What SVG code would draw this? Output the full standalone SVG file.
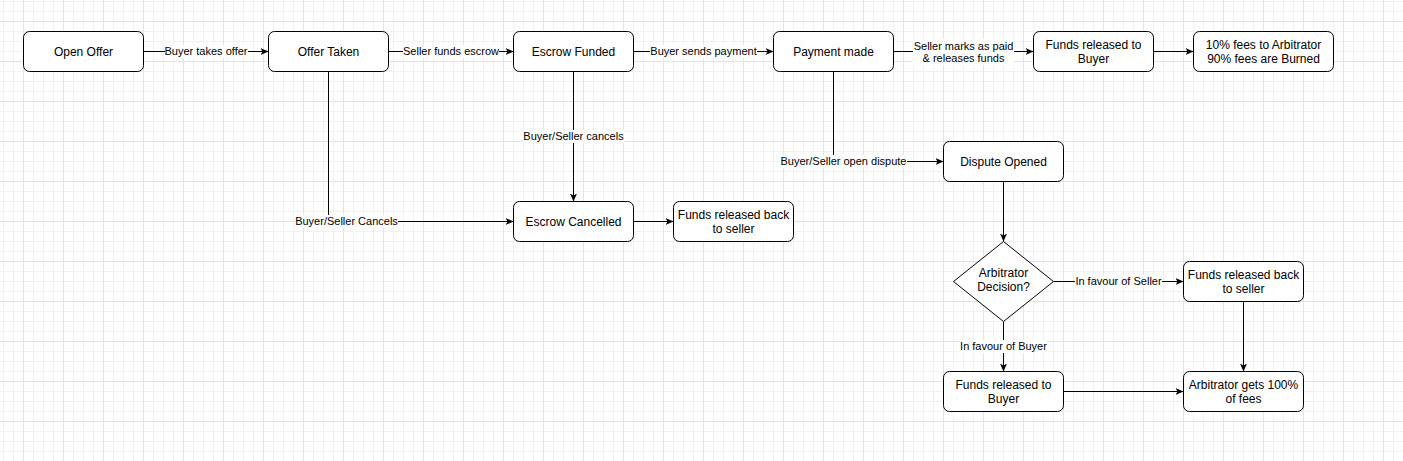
<svg xmlns="http://www.w3.org/2000/svg" width="1403" height="461" viewBox="0 0 1403 461">
<style>
.node{fill:#ffffff;stroke:#000000;stroke-width:1}
.nt{font-family:"Liberation Sans",Arial,Helvetica,sans-serif;font-size:12px;fill:#000000;text-anchor:middle;dominant-baseline:central}
.edge{fill:none;stroke:#000000;stroke-width:1}
.lbg{fill:#ffffff;stroke:none}
.lt{font-family:"Liberation Sans",Arial,Helvetica,sans-serif;font-size:11px;fill:#000000;text-anchor:middle;dominant-baseline:central}
</style>
<defs>
<pattern id="grid" x="23" y="21" width="40" height="40" patternUnits="userSpaceOnUse">
<path d="M10.5,0V40M20.5,0V40M30.5,0V40M0,10.5H40M0,20.5H40M0,30.5H40" stroke="#f1f1f1" stroke-width="1" fill="none"/>
<path d="M0.5,0V40M0,0.5H40" stroke="#e3e3e3" stroke-width="1" fill="none"/>
</pattern>
<marker id="arr" viewBox="0 0 8 7" refX="8" refY="3.5" markerWidth="8" markerHeight="7" markerUnits="userSpaceOnUse" orient="auto">
<path d="M0,0 L8,3.5 L0,7 L2,3.5 Z" fill="#000000"/>
</marker>
</defs>
<rect x="0" y="0" width="1403" height="461" fill="#ffffff"/>
<rect x="0" y="0" width="1403" height="461" fill="url(#grid)"/>

<g id="connectors">
<path class="edge" d="M143.5,51.5H268.5" marker-end="url(#arr)"/>
<path class="edge" d="M388.5,51.5H513.5" marker-end="url(#arr)"/>
<path class="edge" d="M633.5,51.5H773.5" marker-end="url(#arr)"/>
<path class="edge" d="M893.5,51.5H1033.5" marker-end="url(#arr)"/>
<path class="edge" d="M1153.5,51.5H1193.5" marker-end="url(#arr)"/>
<path class="edge" d="M328.5,71.5V221.5H513.5" marker-end="url(#arr)"/>
<path class="edge" d="M573.5,71.5V201.5" marker-end="url(#arr)"/>
<path class="edge" d="M633.5,221.5H673.5" marker-end="url(#arr)"/>
<path class="edge" d="M833.5,71.5V161.5H943.5" marker-end="url(#arr)"/>
<path class="edge" d="M1003.5,181.5V241.5" marker-end="url(#arr)"/>
<path class="edge" d="M1053.5,281.5H1183.5" marker-end="url(#arr)"/>
<path class="edge" d="M1003.5,321.5V371.5" marker-end="url(#arr)"/>
<path class="edge" d="M1063.5,391.5H1183.5" marker-end="url(#arr)"/>
<path class="edge" d="M1243.5,301.5V371.5" marker-end="url(#arr)"/>

<rect class="lbg" x="165" y="45" width="83" height="13"/>
<text class="lt" x="206" y="51">Buyer takes offer</text>
<rect class="lbg" x="403" y="45" width="96" height="13"/>
<text class="lt" x="451" y="51">Seller funds escrow</text>
<rect class="lbg" x="650" y="45" width="107" height="13"/>
<text class="lt" x="703.5" y="51">Buyer sends payment</text>
<rect class="lbg" x="913" y="39" width="101" height="26"/>
<text class="lt" x="963.5" y="45.5">Seller marks as paid</text>
<text class="lt" x="963.5" y="58">&amp; releases funds</text>
<rect class="lbg" x="295" y="215" width="103" height="13"/>
<text class="lt" x="346.5" y="221">Buyer/Seller Cancels</text>
<rect class="lbg" x="523" y="130" width="101" height="13"/>
<text class="lt" x="573.5" y="136">Buyer/Seller cancels</text>
<rect class="lbg" x="780" y="155" width="127" height="13"/>
<text class="lt" x="843.5" y="161">Buyer/Seller open dispute</text>
<rect class="lbg" x="1075" y="275" width="87" height="13"/>
<text class="lt" x="1118.5" y="281">In favour of Seller</text>
<rect class="lbg" x="960" y="340" width="87" height="13"/>
<text class="lt" x="1003.5" y="346">In favour of Buyer</text>
</g>

<g id="open-offer"><rect class="node" x="23.5" y="31.5" width="120" height="40" rx="6"/><text class="nt" x="83.5" y="51.5">Open Offer</text></g>
<g id="offer-taken"><rect class="node" x="268.5" y="31.5" width="120" height="40" rx="6"/><text class="nt" x="328.5" y="51.5">Offer Taken</text></g>
<g id="escrow-funded"><rect class="node" x="513.5" y="31.5" width="120" height="40" rx="6"/><text class="nt" x="573.5" y="51.5">Escrow Funded</text></g>
<g id="payment-made"><rect class="node" x="773.5" y="31.5" width="120" height="40" rx="6"/><text class="nt" x="833.5" y="51.5">Payment made</text></g>
<g id="funds-to-buyer-1"><rect class="node" x="1033.5" y="31.5" width="120" height="40" rx="6"/><text class="nt" x="1093.5" y="44.5">Funds released to</text><text class="nt" x="1093.5" y="58.5">Buyer</text></g>
<g id="fees-split"><rect class="node" x="1193.5" y="31.5" width="140" height="40" rx="6"/><text class="nt" x="1263.5" y="44.5">10% fees to Arbitrator</text><text class="nt" x="1263.5" y="58.5">90% fees are Burned</text></g>
<g id="escrow-cancelled"><rect class="node" x="513.5" y="201.5" width="120" height="40" rx="6"/><text class="nt" x="573.5" y="221.5">Escrow Cancelled</text></g>
<g id="funds-back-seller-1"><rect class="node" x="673.5" y="201.5" width="120" height="40" rx="6"/><text class="nt" x="733.5" y="214.5">Funds released back</text><text class="nt" x="733.5" y="228.5">to seller</text></g>
<g id="dispute-opened"><rect class="node" x="943.5" y="141.5" width="120" height="40" rx="6"/><text class="nt" x="1003.5" y="161.5">Dispute Opened</text></g>
<g id="arbitrator-decision"><path class="node" d="M1003.5,241.5L1053.5,281.5L1003.5,321.5L953.5,281.5Z"/><text class="nt" x="1003.5" y="273">Arbitrator</text><text class="nt" x="1003.5" y="287">Decision?</text></g>
<g id="funds-back-seller-2"><rect class="node" x="1183.5" y="261.5" width="120" height="40" rx="6"/><text class="nt" x="1243.5" y="274.5">Funds released back</text><text class="nt" x="1243.5" y="288.5">to seller</text></g>
<g id="funds-to-buyer-2"><rect class="node" x="943.5" y="371.5" width="120" height="40" rx="6"/><text class="nt" x="1003.5" y="384.5">Funds released to</text><text class="nt" x="1003.5" y="398.5">Buyer</text></g>
<g id="arbitrator-fees"><rect class="node" x="1183.5" y="371.5" width="120" height="40" rx="6"/><text class="nt" x="1243.5" y="384.5">Arbitrator gets 100%</text><text class="nt" x="1243.5" y="398.5">of fees</text></g>
</svg>
